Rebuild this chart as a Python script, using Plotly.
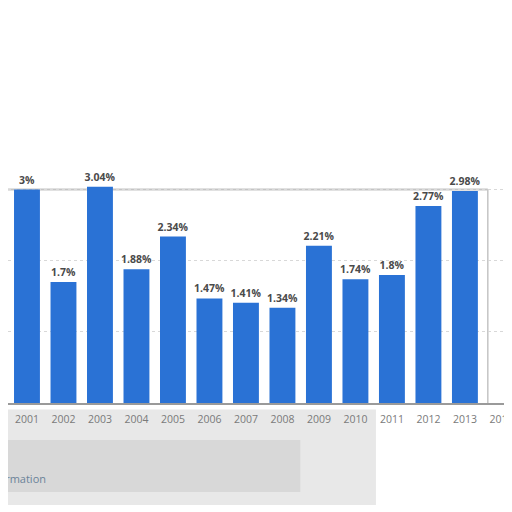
import plotly.graph_objects as go

years = [2000, 2001, 2002, 2003, 2004, 2005, 2006, 2007, 2008, 2009, 2010, 2011, 2012, 2013]
rates = [2.85, 3.0, 1.7, 3.04, 1.88, 2.34, 1.47, 1.41, 1.34, 2.21, 1.74, 1.8, 2.77, 2.98]
tick_years = list(range(2000, 2015))
labels = [f"{v:g}%" for v in rates]

# page has an 8px body margin, so the figure is laid out 8px right/down
fig = go.Figure()
fig.add_trace(go.Bar(
    x=years, y=rates, width=0.71,
    marker=dict(color="#2a72d5", line=dict(width=0)),
    text=labels, textposition="outside", cliponaxis=False, constraintext="none",
    textfont=dict(family="Open Sans", size=10.5, color="#4a4a4a", weight="bold"),
))

# plot frame lines
fig.add_shape(type="line", xref="paper", yref="y", x0=0, x1=0.952, y0=3, y1=3,
              line=dict(color="#c4c4c4", width=2), layer="below")
fig.add_shape(type="line", xref="paper", yref="y", x0=0.952, x1=0.952, y0=0, y1=3,
              line=dict(color="#c4c4c4", width=1.5), layer="below")
# smudge under the axis
fig.add_shape(type="rect", xref="paper", yref="paper", x0=0, x1=0.73, y0=-0.47, y1=-0.03,
              fillcolor="#e8e8e8", line=dict(width=0), layer="below")
fig.add_shape(type="rect", xref="paper", yref="paper", x0=0, x1=0.58, y0=-0.41, y1=-0.17,
              fillcolor="#d8d8d8", line=dict(width=0), layer="below")

fig.add_annotation(text="Additional Information", xref="paper", yref="paper",
                   x=0.08, y=-0.35, xanchor="right", yanchor="middle", showarrow=False,
                   font=dict(family="Open Sans", size=11, color="#6b8399"))

fig.update_xaxes(range=[2000.48, 2014.29], tickvals=tick_years, ticktext=[str(y) for y in tick_years],
                 tickfont=dict(family="Open Sans", size=10.5, color="#7a7a7a"),
                 ticklabelstandoff=6,
                 showgrid=False, showline=True, linecolor="#9a9a9a", linewidth=1.5,
                 ticks="", zeroline=False)
fig.update_yaxes(range=[0, 3.05], dtick=1, showticklabels=False, showgrid=True,
                 gridcolor="#d8d8d8", griddash="dot", gridwidth=1, zeroline=False)
fig.update_layout(width=512, height=512, margin=dict(l=0, r=8, t=178, b=117),
                  plot_bgcolor="white", paper_bgcolor="white", showlegend=False)
fig.write_html("out.html")
